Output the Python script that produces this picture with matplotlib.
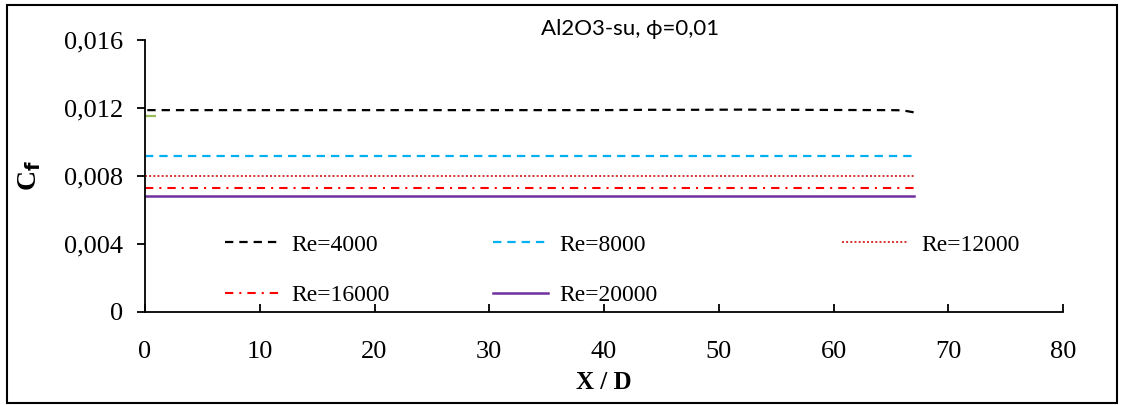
import matplotlib
matplotlib.use("Agg")
import matplotlib.pyplot as plt
from matplotlib.lines import Line2D
from matplotlib.patches import Rectangle

plt.rcParams['lines.scale_dashes'] = False

# ---- data ----
x_re4000 = [0.2, 5, 10, 20, 30, 40, 44, 48, 52, 56, 60, 65, 66, 67]
cf_re4000 = [0.01187, 0.01187, 0.01187, 0.01187, 0.01187, 0.01187, 0.01189,
             0.01189, 0.01190, 0.01189, 0.01188, 0.01187, 0.01186, 0.01174]
x_const = [0.0, 67.0]
cf_re8000 = [0.00917, 0.00917]
cf_re12000 = [0.00799, 0.00799]
cf_re16000 = [0.00728, 0.00728]
cf_re20000 = [0.00681, 0.00681]
x_stub = [0.0, 1.0]
cf_stub = [0.01153, 0.01153]

labels = ['Re=4000', 'Re=8000', 'Re=12000', 'Re=16000', 'Re=20000']
x_ticks = [0, 10, 20, 30, 40, 50, 60, 70, 80]
y_ticks = [0, 0.004, 0.008, 0.012, 0.016]
y_tick_labels = ['0', '0,004', '0,008', '0,012', '0,016']

W, H = 1126, 405
fig = plt.figure(figsize=(W / 100, H / 100), dpi=100)
ax = fig.add_axes([145 / W, 1 - 311.7 / H, (1063 - 145) / W, (311.7 - 40) / H])

serif = ['Liberation Serif', 'DejaVu Serif']

styles = [
    dict(color='black', lw=1.6, linestyle=(0, (6, 4.3))),
    dict(color='#00B0F0', lw=1.6, linestyle=(0, (6, 4.3))),
    dict(color='#D42020', lw=1.3, linestyle=(0, (1.4, 1.6))),
    dict(color='#FF0000', lw=1.5, linestyle=(0, (6, 4.3, 1.5, 4.3))),
    dict(color='#7030A0', lw=1.8, linestyle='-'),
]

ax.plot(x_stub, cf_stub, color='#9BBB59', lw=1.6, solid_capstyle='butt')
ax.plot(x_re4000, cf_re4000, **styles[0])
ax.plot(x_const, cf_re8000, **styles[1])
ax.plot(x_const, cf_re12000, **styles[2])
ax.plot(x_const, cf_re16000, **styles[3])
ax.plot(x_const, cf_re20000, **styles[4])

ax.set_xlim(0, 80)
ax.set_ylim(0, 0.016)
ax.set_xticks(x_ticks)
ax.set_xticklabels([str(t) for t in x_ticks])
ax.set_yticks(y_ticks)
ax.set_yticklabels(y_tick_labels)
for s in ['top', 'right']:
    ax.spines[s].set_visible(False)
for s in ['left', 'bottom']:
    ax.spines[s].set_linewidth(1.3)
ax.tick_params(axis='x', direction='in', length=6, width=1.3, pad=21,
               labelsize=19)
ax.tick_params(axis='y', direction='out', length=6, width=1.3, pad=9.5,
               labelsize=19)
for lab in ax.get_xticklabels() + ax.get_yticklabels():
    lab.set_family(serif)

ax.set_xlabel('X / D', fontsize=18, fontweight='bold', family=serif, labelpad=6)
fig.text(30 / W, 1 - 175 / H, r'C$_\mathbf{f}$', fontsize=20, fontweight='bold',
         family=serif, rotation=90, ha='center', va='center')

fig.text(630 / W, 1 - 29 / H, 'Al2O3-su, \u03d5=0,01', fontsize=16,
         family=['Lato', 'DejaVu Sans'], ha='center', va='center')

# legends, one per column
handles = [Line2D([], [], **st) for st in styles]
cols = [([0, 3], 225), ([1, 4], 493), ([2], 842)]
hlens = [2.33, 2.33, 2.75]
hpads = [0.5, 0.5, 0.6]
for (idx, xpx), hl, hp in zip(cols, hlens, hpads):
    leg = fig.legend([handles[i] for i in idx], [labels[i] for i in idx],
                     loc='upper left', bbox_to_anchor=(xpx / W, 1 - 234 / H),
                     bbox_transform=fig.transFigure, frameon=False,
                     prop={'family': serif, 'size': 17}, handlelength=hl,
                     handletextpad=hp, labelspacing=1.22, borderpad=0,
                     borderaxespad=0)

fig.patches.append(Rectangle((7.5 / W, 1 - 403 / H), (1117 - 7.5) / W,
                             (403 - 5) / H, transform=fig.transFigure,
                             fill=False, edgecolor='black', lw=1.5))

fig.savefig('out.png', dpi=100)
